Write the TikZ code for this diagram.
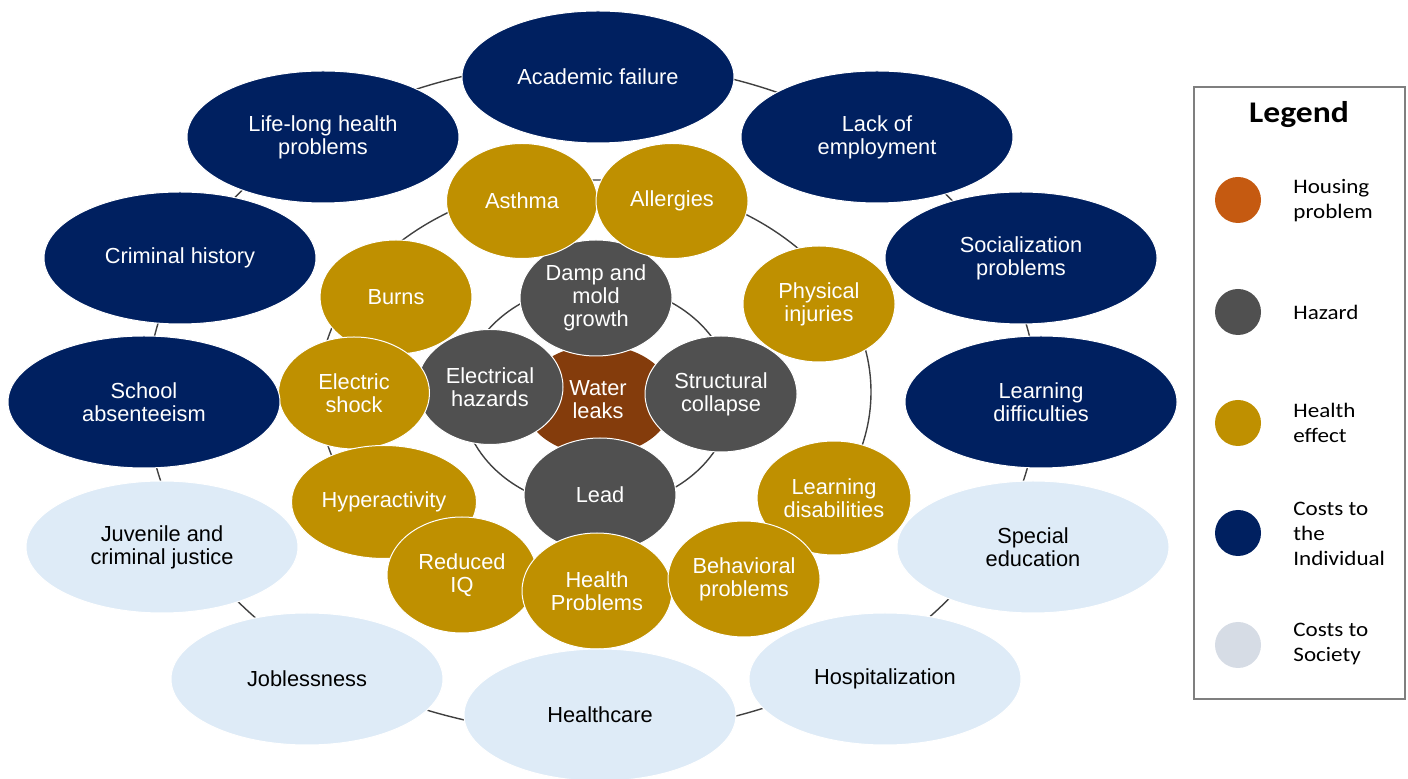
\documentclass[tikz,border=0pt]{standalone}
\usepackage{fontspec}
\setmainfont{Liberation Sans}
\newfontfamily\legfont[FakeStretch=1.12]{Carlito}
\usetikzlibrary{shapes.geometric}
\definecolor{navy}{HTML}{002060}
\definecolor{goldc}{HTML}{BF9000}
\definecolor{hazc}{HTML}{505050}
\definecolor{brownc}{HTML}{843C0C}
\definecolor{socc}{HTML}{DEEBF7}
\definecolor{housc}{HTML}{C55A11}
\definecolor{socleg}{HTML}{D6DCE5}
\definecolor{ringc}{HTML}{404040}
\definecolor{legbord}{HTML}{7F7F7F}
\tikzset{
  sz/.style 2 args={minimum width=#1pt, minimum height=#2pt},
  bub/.style={ellipse, inner sep=0pt, align=center, draw=white, line width=0.5pt,
    font=\fontsize{10.9}{11.5}\selectfont},
  indiv/.style={bub, fill=navy, text=white, sz={136}{66}},
  soc/.style={bub, fill=socc, text=black, sz={136}{66}},
  health/.style={bub, fill=goldc, text=white, sz={75}{57}},
  hazard/.style={bub, fill=hazc, text=white, sz={75}{57}},
  house/.style={bub, fill=brownc, text=white, draw=none, sz={75}{55}},
  ring/.style={draw=ringc, line width=0.7pt},
  legdot/.style={circle, inner sep=0pt, minimum size=23pt},
  leglab/.style={anchor=west, align=left, inner sep=0pt,
    font=\legfont\fontsize{10.3}{12.5}\selectfont},
}
\begin{document}
\begin{tikzpicture}[x=0.5pt, y=-0.5pt]
\useasboundingbox (0,0) rectangle (1408,779);
% rings
\coordinate (outerc) at (592,398);
\coordinate (midc) at (595,392);
\coordinate (innerc) at (597,396);
\draw[ring] (outerc) ellipse [x radius=445, y radius=336];
\draw[ring] (midc) ellipse [x radius=276, y radius=212];
\draw[ring] (innerc) ellipse [x radius=135, y radius=112];
% housing problem
\node[house] (water) at (598,400) {Water\\leaks};
% hazards
\node[hazard, sz={76}{58}] (damp) at (596,298) {Damp and\\mold\\growth};
\node[hazard, sz={73}{57.5}] (elec) at (490,387) {Electrical\\hazards};
\node[hazard, sz={76}{58}] (struct) at (721,394) {Structural\\collapse};
\node[hazard, sz={76}{57}] (lead) at (600,495) {Lead};
% health effects
\node[health, sz={75.5}{57.5}] (asthma) at (522,201) {Asthma};
\node[health, sz={76}{57.5}] (allerg) at (672,201) {Allergies};
\node[health, sz={76}{58}] (phys) at (819,304) {Physical\\injuries};
\node[health, sz={76}{57}] (burns) at (396,297) {Burns};
\node[health, sz={75.5}{56}] (eshock) at (354,393) {Electric\\shock};
\node[health, sz={92.5}{56.5}] (hyper) at (384,502) {Hyperactivity};
\node[health, sz={75}{58}] (riq) at (462,575) {Reduced\\IQ};
\node[health, sz={75}{58}] (hprob) at (597,591) {Health\\Problems};
\node[health, sz={77}{57}] (ldis) at (834,498) {Learning\\disabilities};
\node[health, sz={76}{58}] (behav) at (744,579) {Behavioral\\problems};
% costs to the individual
\node[indiv] (acad) at (598,77) {Academic failure};
\node[indiv] (life) at (323,137) {Life-long health\\problems};
\node[indiv] (lack) at (877,137) {Lack of\\employment};
\node[indiv] (crim) at (180,258) {Criminal history};
\node[indiv] (social) at (1021,258) {Socialization\\problems};
\node[indiv] (school) at (144,402) {School\\absenteeism};
\node[indiv] (ldiff) at (1041,402) {Learning\\difficulties};
% costs to society
\node[soc] (juv) at (162,547) {Juvenile and\\criminal justice};
\node[soc] (spec) at (1033,547) {Special\\education};
\node[soc] (jobless) at (307,679) {Joblessness};
\node[soc] (hosp) at (885,679) {Hospitalization};
\node[soc] (hcare) at (600,715) {Healthcare};
% legend
\node[draw=legbord, line width=1pt, anchor=north west, inner sep=0pt,
      minimum width=105.5pt, minimum height=306pt] (legbox) at (1193,86) {};
\node[font=\legfont\bfseries\fontsize{15}{18}\selectfont] (legtitle) at (1299,115) {Legend};
\node[legdot, fill=housc] (dhous) at (1238,200) {};
\node[legdot, fill=hazc] (dhaz) at (1238,312) {};
\node[legdot, fill=goldc] (dhealth) at (1238,423) {};
\node[legdot, fill=navy] (dindiv) at (1238,533) {};
\node[legdot, fill=socleg] (dsoc) at (1238,645) {};
\node[leglab] (thous) at (1293,201) {Housing\\problem};
\node[leglab] (thaz) at (1293,312) {Hazard};
\node[leglab] (thealth) at (1293,423) {Health\\effect};
\node[leglab] (tindiv) at (1293,534) {Costs to\\the\\Individual};
\node[leglab] (tsoc) at (1293,644) {Costs to\\Society};
\end{tikzpicture}
\end{document}
